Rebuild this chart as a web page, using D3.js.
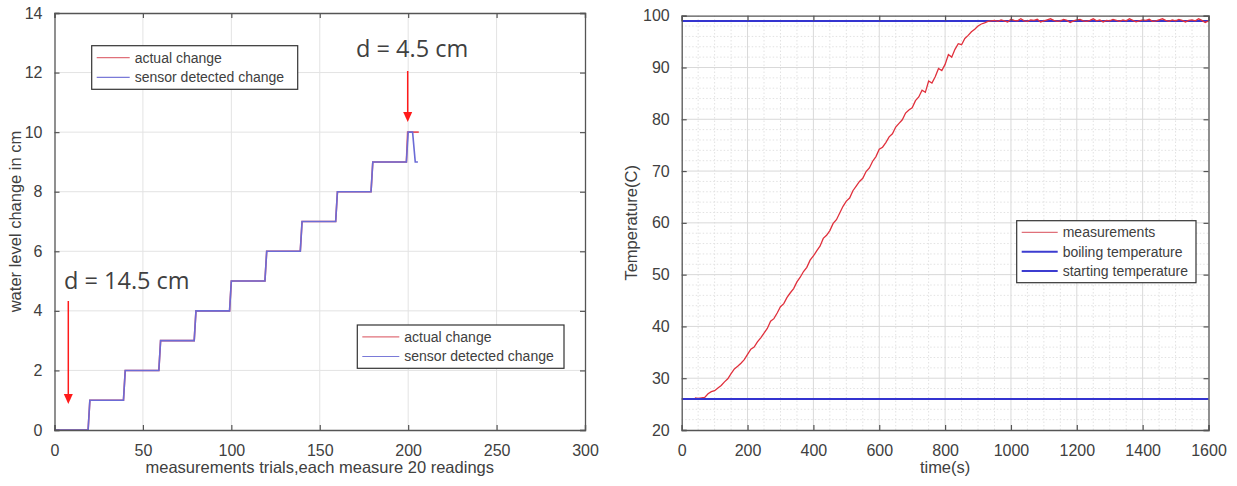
<!DOCTYPE html>
<html>
<head>
<meta charset="utf-8">
<script src="https://cdn.jsdelivr.net/npm/d3@7"></script>
<style>
  body { margin: 0; background: #fff; }
  text { font-family: "Liberation Sans", Arial, sans-serif; fill: #404040; }
</style>
</head>
<body>
<svg id="chart" width="1237" height="486"></svg>
<script>
// ---- left panel: water level steps ----
const sensorTrial = [0, 19, 20, 39, 40, 59, 60, 79, 80, 99, 100, 119, 120, 139, 140, 159, 160, 179, 180, 199, 200, 202.5, 204, 205.5];
const sensorLevel = [0, 0, 1, 1, 2, 2, 3, 3, 4, 4, 5, 5, 6, 6, 7, 7, 8, 8, 9, 9, 10, 10, 9, 9];
const actualTrial = [0, 19, 20, 39, 40, 59, 60, 79, 80, 99, 100, 119, 120, 139, 140, 159, 160, 179, 180, 199, 199.7, 206];
const actualLevel = [0, 0, 1, 1, 2, 2, 3, 3, 4, 4, 5, 5, 6, 6, 7, 7, 8, 8, 9, 9, 10, 10];
const leftXTicks = [0, 50, 100, 150, 200, 250, 300];
const leftYTicks = [0, 2, 4, 6, 8, 10, 12, 14];
const leftLegend = ["actual change", "sensor detected change"];

// ---- right panel: temperature, one reading every 10 s from t = 40 s ----
const temps = [
  26.2, 26.1, 26.2, 26.3, 27.0, 27.4, 27.6, 28.1, 28.6, 29.3,
  29.9, 30.9, 31.8, 32.3, 32.9, 33.6, 34.6, 35.6, 36.0, 37.0,
  37.8, 38.7, 39.6, 41.0, 41.5, 42.6, 43.8, 44.4, 45.6, 46.5,
  47.3, 48.6, 49.5, 50.6, 51.4, 52.8, 53.6, 54.6, 55.5, 57.0,
  57.6, 58.5, 59.9, 60.6, 61.9, 63.2, 64.2, 64.8, 66.2, 67.1,
  68.0, 68.6, 69.9, 70.6, 71.9, 72.8, 74.2, 74.6, 75.5, 76.6,
  77.2, 78.5, 79.2, 79.9, 81.2, 81.8, 82.2, 83.6, 84.3, 85.6,
  85.2, 87.4, 87.0, 88.2, 89.8, 89.4, 90.6, 92.5, 92.0, 93.5,
  94.6, 94.4, 95.6, 96.2, 96.9, 97.4, 98.0, 98.4, 98.6, 98.9,
  99.0,
  99.1, 98.9, 99.2, 99.0, 98.8, 99.3, 99.1, 99.0, 99.4, 99.0,
  98.9, 99.2, 99.1, 99.3, 98.8, 99.0, 99.2, 99.4, 99.1, 98.9,
  99.0, 99.3, 99.1, 98.7, 99.0, 99.2, 99.3, 99.0, 98.9, 99.1,
  99.4, 99.0, 99.2, 98.8, 99.1, 99.0, 99.3, 99.1, 98.9, 99.2,
  99.0, 99.4, 99.1, 98.8, 99.0, 99.2, 99.1, 99.3, 98.9, 99.0,
  99.2, 99.4, 99.1, 98.9, 99.2, 99.0, 99.3, 99.1, 98.8, 99.1,
  99.2, 99.0, 99.4, 99.1, 98.7, 99.0
];
const tStart = 40, tStep = 10;
const boilingTemp = 99;
const startingTemp = 26;
const rightXTicks = [0, 200, 400, 600, 800, 1000, 1200, 1400, 1600];
const rightYTicks = [20, 30, 40, 50, 60, 70, 80, 90, 100];
const rightLegend = ["measurements", "boiling temperature", "starting temperature"];

const svg = d3.select("#chart");
const axisColor = "#555";

// draws a MATLAB style box with inward ticks on every side
function drawBox(g, x, y, xTicks, yTicks) {
  const [x0, x1] = x.range();
  const [y1, y0] = y.range();
  g.append("g").attr("transform", `translate(0,${y1})`)
    .call(d3.axisBottom(x).tickValues(xTicks).tickSize(-5).tickPadding(15).tickFormat(d => d));
  g.append("g").attr("transform", `translate(0,${y0})`)
    .call(d3.axisTop(x).tickValues(xTicks).tickSize(-5).tickFormat(""));
  g.append("g").attr("transform", `translate(${x0},0)`)
    .call(d3.axisLeft(y).tickValues(yTicks).tickSize(-5).tickPadding(12).tickFormat(d => d));
  g.append("g").attr("transform", `translate(${x1},0)`)
    .call(d3.axisRight(y).tickValues(yTicks).tickSize(-5).tickFormat(""));
  g.selectAll(".domain").attr("stroke", axisColor).attr("stroke-width", 1.3);
  g.selectAll(".tick line").attr("stroke", axisColor).attr("stroke-width", 1.2);
  g.selectAll(".tick text").attr("font-size", 16).attr("fill", "#404040")
    .style("font-family", "'Liberation Sans', Arial, sans-serif");
}

function drawArrow(g, x, yFrom, yTo) {
  g.append("line").attr("x1", x).attr("x2", x).attr("y1", yFrom).attr("y2", yTo - 8)
    .attr("stroke", "#ff1a1a").attr("stroke-width", 1.5);
  g.append("path").attr("d", `M${x - 4.5},${yTo - 10}L${x + 4.5},${yTo - 10}L${x},${yTo}Z`)
    .attr("fill", "#ff1a1a");
}

function drawLegend(g, x, y, w, h, items, colors, widths, lineLen) {
  g.append("rect").attr("x", x).attr("y", y).attr("width", w).attr("height", h)
    .attr("fill", "#fff").attr("stroke", "#333").attr("stroke-width", 1.2);
  const rowH = (h - 4) / items.length;
  items.forEach((label, i) => {
    const cy = y + 2 + rowH * (i + 0.5);
    g.append("line").attr("x1", x + 5).attr("x2", x + 5 + lineLen).attr("y1", cy).attr("y2", cy)
      .attr("stroke", colors[i]).attr("stroke-width", widths[i]);
    g.append("text").attr("x", x + 10 + lineLen).attr("y", cy + 5)
      .attr("font-size", 14).attr("fill", "#333").text(label);
  });
}

// ================= left panel =================
const xL = d3.scaleLinear().domain([0, 300]).range([54.5, 585]);
const yL = d3.scaleLinear().domain([0, 14]).range([430, 13]);
const gL = svg.append("g");

gL.append("g").selectAll("line").data(leftXTicks.slice(1, -1)).join("line")
  .attr("x1", d => xL(d)).attr("x2", d => xL(d)).attr("y1", yL(0)).attr("y2", yL(14))
  .attr("stroke", "#e3e3e3");
gL.append("g").selectAll("line").data(leftYTicks.slice(1, -1)).join("line")
  .attr("x1", xL(0)).attr("x2", xL(300)).attr("y1", d => yL(d)).attr("y2", d => yL(d))
  .attr("stroke", "#e3e3e3");

const lineL = d3.line().x(d => xL(d[0])).y(d => yL(d[1]));
gL.append("path").datum(d3.zip(actualTrial, actualLevel)).attr("d", lineL)
  .attr("fill", "none").attr("stroke", "#e8545e").attr("stroke-width", 1.6);
gL.append("path").datum(d3.zip(sensorTrial, sensorLevel)).attr("d", lineL)
  .attr("fill", "none").attr("stroke", "#6b6bd6").attr("stroke-width", 1.6);

drawBox(gL, xL, yL, leftXTicks, leftYTicks);

gL.append("text").attr("x", (xL(0) + xL(300)) / 2).attr("y", 473).attr("text-anchor", "middle")
  .attr("font-size", 16.5).text("measurements trials,each measure 20 readings");
gL.append("text").attr("transform", `translate(21,${(yL(0) + yL(14)) / 2}) rotate(-90)`)
  .attr("text-anchor", "middle").attr("font-size", 16.5).text("water level change in cm");

drawLegend(gL, 91.7, 45.7, 206, 43.6, leftLegend, ["#e0707a", "#7a7ad8"], [1.2, 1.2], 33);
drawLegend(gL, 357.3, 325, 206.7, 43.3, leftLegend, ["#e0707a", "#7a7ad8"], [1.2, 1.2], 37);

// annotations
gL.append("text").attr("x", 64).attr("y", 289).attr("font-size", 23.5).attr("fill", "#111")
  .style("font-family", "'Open Sans', sans-serif").text("d = 14.5 cm");
drawArrow(gL, 68.3, 301, 404);
gL.append("text").attr("x", 356).attr("y", 57).attr("font-size", 23.5).attr("fill", "#111")
  .style("font-family", "'Open Sans', sans-serif").text("d = 4.5 cm");
drawArrow(gL, 407.7, 71, 122);

// ================= right panel =================
const xR = d3.scaleLinear().domain([0, 1600]).range([681.7, 1208.5]);
const yR = d3.scaleLinear().domain([20, 100]).range([430, 15.7]);
const gR = svg.append("g");

// minor grid (dotted)
gR.append("g").selectAll("line").data(d3.range(50, 1600, 50).filter(v => v % 200 !== 0)).join("line")
  .attr("x1", d => xR(d)).attr("x2", d => xR(d)).attr("y1", yR(20)).attr("y2", yR(100))
  .attr("stroke", "#e2e2e2").attr("stroke-dasharray", "1.5,2");
gR.append("g").selectAll("line").data(d3.range(22, 100, 2).filter(v => v % 10 !== 0)).join("line")
  .attr("x1", xR(0)).attr("x2", xR(1600)).attr("y1", d => yR(d)).attr("y2", d => yR(d))
  .attr("stroke", "#e2e2e2").attr("stroke-dasharray", "1.5,2");
// major grid
gR.append("g").selectAll("line").data(rightXTicks.slice(1, -1)).join("line")
  .attr("x1", d => xR(d)).attr("x2", d => xR(d)).attr("y1", yR(20)).attr("y2", yR(100))
  .attr("stroke", "#d9d9d9");
gR.append("g").selectAll("line").data(rightYTicks.slice(1, -1)).join("line")
  .attr("x1", xR(0)).attr("x2", xR(1600)).attr("y1", d => yR(d)).attr("y2", d => yR(d))
  .attr("stroke", "#d9d9d9");

gR.append("line").attr("x1", xR(0)).attr("x2", xR(1600))
  .attr("y1", yR(boilingTemp)).attr("y2", yR(boilingTemp))
  .attr("stroke", "#3434d0").attr("stroke-width", 2);

const tempLine = d3.line().x((d, i) => xR(tStart + i * tStep)).y(d => yR(d));
gR.append("path").datum(temps).attr("d", tempLine)
  .attr("fill", "none").attr("stroke", "#e0303c").attr("stroke-width", 1.3);

gR.append("line").attr("x1", xR(0)).attr("x2", xR(1600))
  .attr("y1", yR(startingTemp)).attr("y2", yR(startingTemp))
  .attr("stroke", "#3434d0").attr("stroke-width", 2);

drawBox(gR, xR, yR, rightXTicks, rightYTicks);

gR.append("text").attr("x", (xR(0) + xR(1600)) / 2).attr("y", 473).attr("text-anchor", "middle")
  .attr("font-size", 16.5).text("time(s)");
gR.append("text").attr("transform", `translate(637,${(yR(20) + yR(100)) / 2}) rotate(-90)`)
  .attr("text-anchor", "middle").attr("font-size", 16.5).text("Temperature(C)");

drawLegend(gR, 1016.7, 220.7, 179.3, 62, rightLegend, ["#e0707a", "#3c3cd0", "#3c3cd0"], [1.2, 2, 2], 36);
</script>
</body>
</html>
